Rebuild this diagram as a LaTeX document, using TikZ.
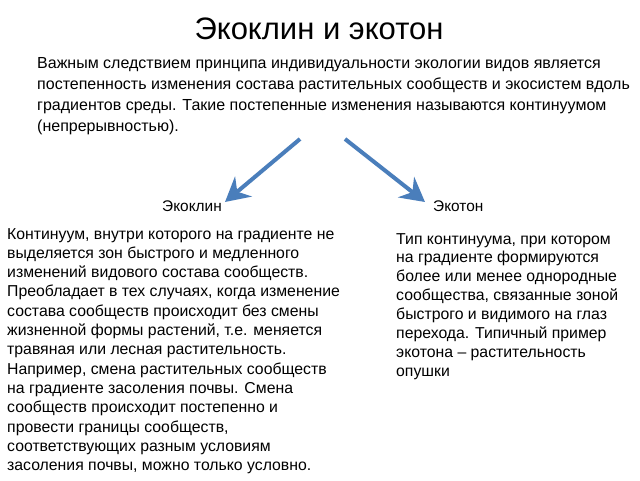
\documentclass[tikz,border=0pt]{standalone}
\usepackage{fontspec}
\setmainfont{Liberation Sans}
\usetikzlibrary{arrows.meta}
\definecolor{arrowblue}{RGB}{74,126,187}
\tikzset{
    textblock/.style={anchor=north west,align=left,inner sep=0pt,
        font=\fontsize{16}{21}\selectfont},
    sidetext/.style={anchor=north west,align=left,inner sep=0pt},
    branchlabel/.style={anchor=base west,inner sep=0pt,font=\fontsize{15.4}{17}\selectfont},
    bluearrow/.style={draw=arrowblue,line width=4pt,
        -{Stealth[length=24pt,width=26pt,inset=8pt]}}
}
\begin{document}
\begin{tikzpicture}[x=1pt,y=-1pt]
    \useasboundingbox[fill=white] (0,0) rectangle (640,480);
    % Title
    \node[anchor=base,inner sep=0pt,font=\fontsize{31}{35}\selectfont] (title) at (319,39)
        {Экоклин и экотон};
    % Intro
    \node[textblock] (intro) at (37,57)
        {Важным следствием принципа индивидуальности экологии видов является\\
         постепенность изменения состава растительных сообществ и экосистем вдоль\\
         градиентов среды. Такие постепенные изменения называются континуумом\\
         (непрерывностью).};
    % Arrows
    \coordinate (forkleft) at (300,139);
    \coordinate (forkright) at (345,139);
    \coordinate (tipleft) at (225,202);
    \coordinate (tipright) at (425,202);
    \draw[bluearrow] (forkleft) -- (tipleft);
    \draw[bluearrow] (forkright) -- (tipright);
    % Branch labels
    \node[branchlabel] (ecocline) at (162,211) {Экоклин};
    \node[branchlabel] (ecotone) at (433,211) {Экотон};
    % Ecocline text
    \node[sidetext,font=\fontsize{15.8}{19.3}\selectfont] (clinetext) at (7,228)
        {Континуум, внутри которого на градиенте не\\
         выделяется зон быстрого и медленного\\
         изменений видового состава сообществ.\\
         Преобладает в тех случаях, когда изменение\\
         состава сообществ происходит без смены\\
         жизненной формы растений, т.е. меняется\\
         травяная или лесная растительность.\\
         Например, смена растительных сообществ\\
         на градиенте засоления почвы. Смена\\
         сообществ происходит постепенно и\\
         провести границы сообществ,\\
         соответствующих разным условиям\\
         засоления почвы, можно только условно.};
    % Ecotone text
    \node[sidetext,font=\fontsize{15.8}{18.9}\selectfont] (tonetext) at (396,233)
        {Тип континуума, при котором\\
         на градиенте формируются\\
         более или менее однородные\\
         сообщества, связанные зоной\\
         быстрого и видимого на глаз\\
         перехода. Типичный пример\\
         экотона -- растительность\\
         опушки};
\end{tikzpicture}
\end{document}
